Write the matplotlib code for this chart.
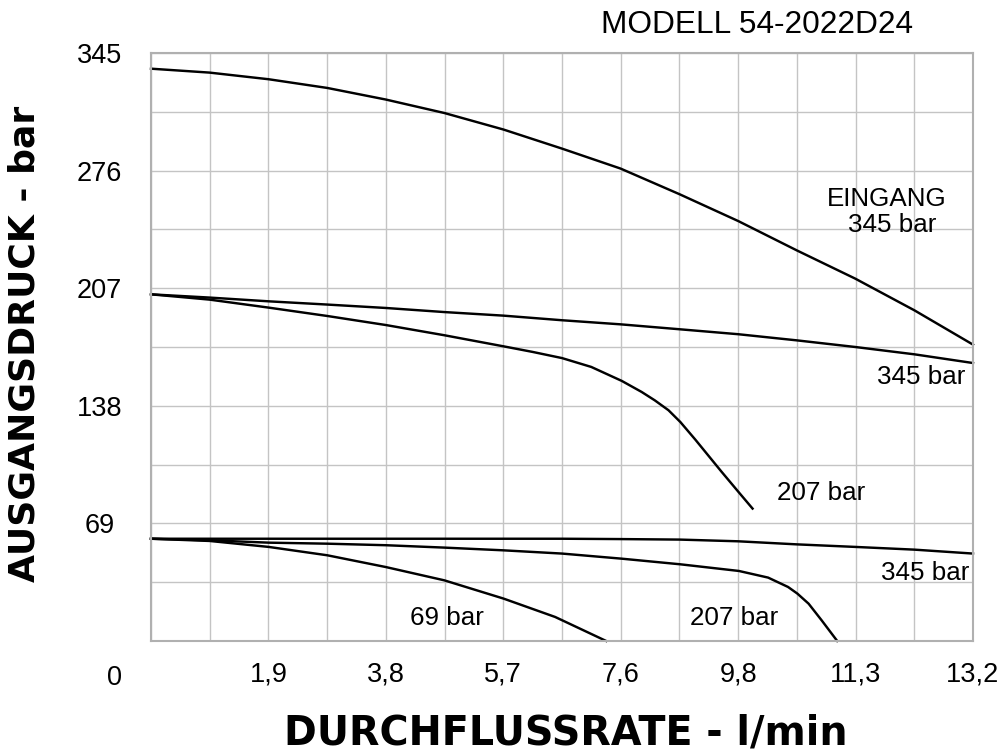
"""Pressure regulator flow curve, model 54-2022D24."""

import matplotlib

matplotlib.use("Agg")
import matplotlib.pyplot as plt
import numpy as np

plt.rcParams["font.family"] = ["Liberation Sans", "DejaVu Sans"]

# flow in l/min (axis is linear, 13.2 at the right edge)
X_MAX = 13.2
Y_MAX = 345

x_tick_labels = ["1,9", "3,8", "5,7", "7,6", "9,8", "11,3", "13,2"]
y_tick_values = [69, 138, 207, 276, 345]

# inlet 345 bar, outlet set near 345
inlet_x = [0, 0.94, 1.89, 2.83, 3.77, 4.71, 5.66, 6.60, 7.54, 8.49, 9.43, 10.37, 11.31, 12.26, 13.2]
inlet_y = [335.8, 333.5, 329.6, 324.5, 317.7, 309.8, 300.1, 288.9, 277.2, 262.1, 246.4, 229.2, 212.6, 194.0, 173.9]

# outlet set at 207
mid345_x = [0, 0.94, 1.89, 2.83, 3.77, 4.71, 5.66, 6.60, 7.54, 8.49, 9.43, 10.37, 11.31, 12.26, 13.2]
mid345_y = [203.4, 201.5, 199.3, 197.4, 195.4, 193.0, 190.9, 188.2, 185.8, 182.9, 180.0, 176.4, 172.5, 168.2, 163.1]

mid207_x = [0, 0.94, 1.89, 2.83, 3.77, 4.71, 5.66, 6.13, 6.60, 7.07, 7.56, 7.88, 8.09, 8.31, 8.50, 8.74, 8.95, 9.16, 9.44, 9.66]
mid207_y = [203.4, 200.3, 195.6, 190.7, 185.4, 179.4, 172.9, 169.6, 166.0, 160.8, 152.6, 146.1, 141.2, 135.4, 128.5, 118.2, 108.8, 99.4, 87.2, 77.7]

# outlet set at 69
low345_x = [0, 6.60, 7.54, 8.49, 9.43, 10.37, 11.31, 12.26, 13.2]
low345_y = [60.0, 60.0, 59.8, 59.5, 58.5, 56.7, 55.2, 53.6, 51.3]

low207_x = [0, 0.94, 1.89, 2.83, 3.77, 4.71, 5.66, 6.60, 7.56, 8.50, 9.44, 9.91, 10.23, 10.38, 10.56, 10.77, 11.02]
low207_y = [60.0, 59.1, 57.7, 57.1, 56.2, 54.8, 53.2, 51.3, 48.3, 45.0, 41.1, 37.2, 31.7, 27.8, 21.9, 12.1, 0.0]

low69_x = [0, 0.94, 1.89, 2.83, 3.77, 4.71, 5.66, 6.49, 7.31]
low69_y = [60.0, 58.7, 55.2, 50.3, 43.4, 35.6, 24.9, 14.1, 0.0]

curves = [
    (inlet_x, inlet_y),
    (mid345_x, mid345_y),
    (mid207_x, mid207_y),
    (low345_x, low345_y),
    (low207_x, low207_y),
    (low69_x, low69_y),
]

labels = [
    ("EINGANG", 11.82, 259.2),
    ("345 bar", 11.90, 243.9),
    ("345 bar", 12.36, 154.7),
    ("207 bar", 10.76, 86.7),
    ("345 bar", 12.43, 39.7),
    ("207 bar", 9.37, 13.3),
    ("69 bar", 4.75, 13.3),
]

GRID = "#c4c4c4"
SPINE = "#b0b0b0"

fig = plt.figure(figsize=(10.08, 7.54), dpi=100)
ax = fig.add_axes([151 / 1008, 1 - 641 / 754, 822 / 1008, 588 / 754])
ax.set_xlim(0, X_MAX)
ax.set_ylim(0, Y_MAX)

cell = X_MAX / 14
ax.set_xticks(np.arange(1, 8) * 2 * cell)
ax.set_xticklabels(x_tick_labels)
ax.set_xticks(np.arange(0, 15) * cell, minor=True)
ax.set_yticks(y_tick_values)
ax.set_yticks(np.arange(0, 11) * Y_MAX / 10, minor=True)

ax.grid(True, which="both", color=GRID, linewidth=1.0)
ax.set_axisbelow(True)
for spine in ax.spines.values():
    spine.set_color(SPINE)
    spine.set_linewidth(1.5)

ax.tick_params(which="both", length=0)
ax.tick_params(axis="x", labelsize=19.5, pad=15)
ax.tick_params(axis="y", labelsize=19.5, pad=37)
for lbl in ax.get_yticklabels():
    lbl.set_horizontalalignment("center")

for xs, ys in curves:
    ax.plot(xs, ys, color="black", linewidth=1.75, solid_joinstyle="round", clip_on=False)

for text, tx, ty in labels:
    ax.text(tx, ty, text, fontsize=18.7, ha="center", va="center")

fig.text(114 / 1008, 1 - 678 / 754, "0", fontsize=19.5, ha="center", va="center")
fig.text(913 / 1008, 1 - 25 / 754, "MODELL 54-2022D24", fontsize=22.8, ha="right", va="center")

fig.text(25 / 1008, 1 - 344 / 754, "AUSGANGSDRUCK - bar", fontsize=26, fontweight="bold",
         family="DejaVu Sans", rotation=90, ha="center", va="center")
fig.text(566 / 1008, 1 - 733 / 754, "DURCHFLUSSRATE - l/min", fontsize=28.5, fontweight="bold",
         family="DejaVu Sans", ha="center", va="center")

fig.savefig("out.png", dpi=100, facecolor="white")
